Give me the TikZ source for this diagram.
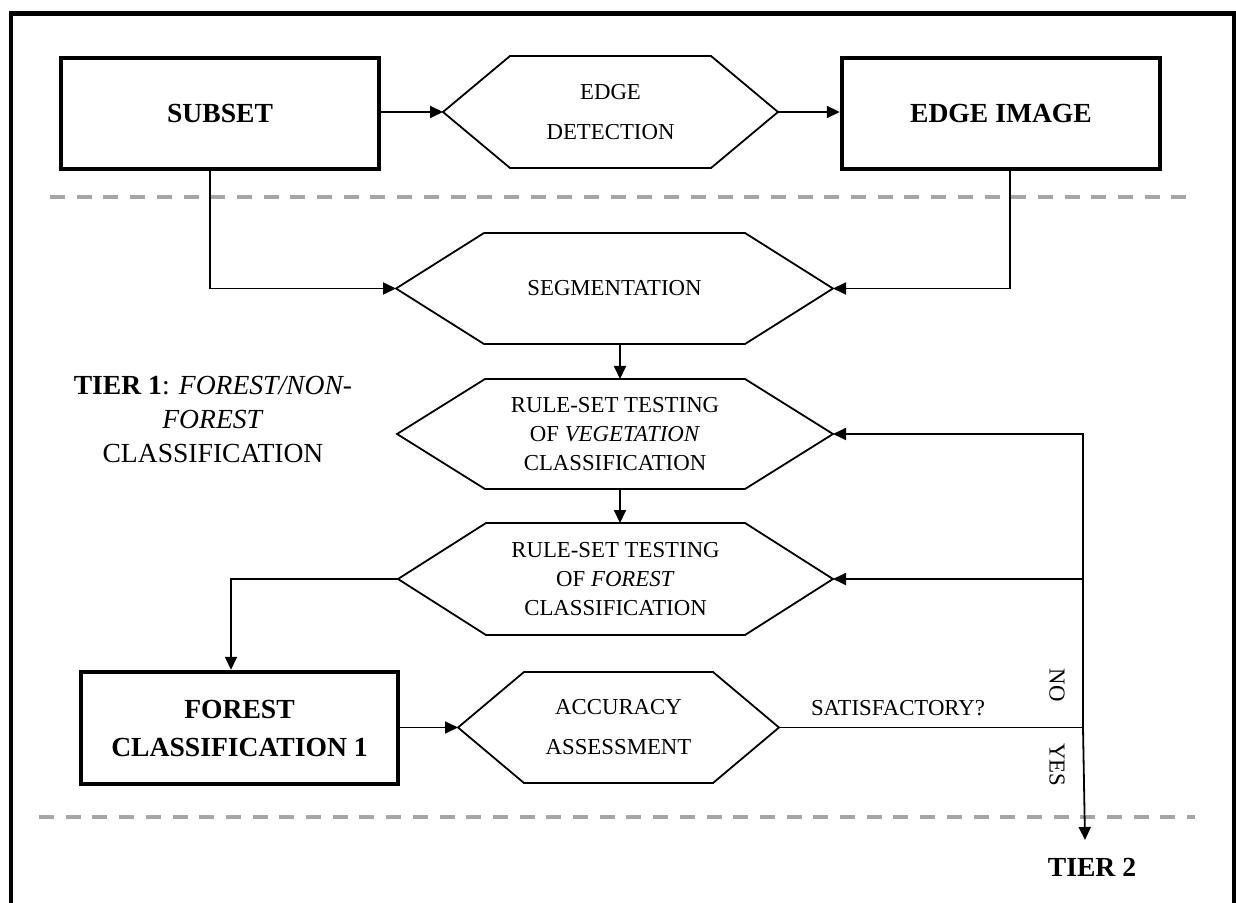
\documentclass[tikz,border=0pt]{standalone}
\usepackage{fontspec}
\setmainfont{Liberation Serif}
\usetikzlibrary{arrows.meta}
\definecolor{divider}{HTML}{A6A6A6}
\tikzset{
  hexline/.style={draw=black, line width=0.9pt, line join=miter},
  hextext/.style={inner sep=0pt, align=center, font=\fontsize{11.4pt}{14.5pt}\selectfont},
  twoline/.style={font=\fontsize{11.4pt}{20pt}\selectfont},
  boldbox/.style={draw, line width=2.2pt, minimum width=159pt, minimum height=55.5pt,
    align=center, inner sep=0pt, font=\bfseries\fontsize{13.8pt}{19pt}\selectfont},
  conn/.style={line width=0.9pt},
  arr/.style={conn, -{Triangle[length=6.5pt,width=6pt]}},
  divline/.style={draw=divider, line width=2pt, dash pattern=on 7.5pt off 5.85pt},
  lbl/.style={inner sep=0pt, font=\fontsize{11.4pt}{14pt}\selectfont},
}
% hexagonal process step: name, cx, cy, half width, corner inset, half height, options, text
\newcommand\hexnode[8]{%
  \draw[hexline] (#2-#4,#3) -- (#2-#4+#5,#3-#6) -- (#2+#4-#5,#3-#6) -- (#2+#4,#3)
    -- (#2+#4-#5,#3+#6) -- (#2-#4+#5,#3+#6) -- cycle;
  \node[hextext,#7] (#1) at (#2,#3) {#8};
  \coordinate (#1-w) at (#2-#4,#3);
  \coordinate (#1-e) at (#2+#4,#3);
  \coordinate (#1-n) at (#2,#3-#6);
  \coordinate (#1-s) at (#2,#3+#6);
}
\begin{document}
\begin{tikzpicture}[x=0.5pt,y=-0.5pt]
\useasboundingbox (0,0) rectangle (1236,903);

% outer frame (open at the bottom)
\begin{scope}
  \clip (0,0) rectangle (1236,903);
  \draw[line width=2.3pt] (10.8,950) -- (10.8,13.8) -- (1233.8,13.8) -- (1233.8,950);
\end{scope}

% tier dividers
\draw[divline] (50,197) -- (1192,197);
\draw[divline] (39,817) -- (1195,817);

% data boxes
\node[boldbox] (subset) at (220,113.5) {SUBSET};
\node[boldbox] (edgeimg) at (1001,113.5) {EDGE IMAGE};
\node[boldbox, minimum width=158.5pt, minimum height=56pt] (fc) at (239.5,728) {FOREST\\CLASSIFICATION 1};

% processing steps
\hexnode{edet}{610.5}{112}{167.5}{67}{56}{twoline}{EDGE\\DETECTION}
\hexnode{seg}{614.5}{288.5}{218.5}{88}{55.5}{}{SEGMENTATION}
\hexnode{veg}{615}{434}{218}{88}{55}{}{RULE-SET TESTING\\OF \textit{VEGETATION}\\CLASSIFICATION}
\hexnode{fort}{615.5}{579}{217.5}{88}{56}{}{RULE-SET TESTING\\OF \textit{FOREST}\\CLASSIFICATION}
\hexnode{acc}{618.5}{727.5}{160.5}{66}{55.5}{twoline}{ACCURACY\\ASSESSMENT}

% main column of the vertical flow
\coordinate (col) at (620,0);

% flow
\draw[arr] (subset.east |- edet-w) -- (edet-w);
\draw[arr] (edet-e) -- (edgeimg.west |- edet-e);
\draw[arr] ([xshift=-5pt]subset.south) |- (seg-w);
\draw[arr] ([xshift=4.5pt]edgeimg.south) |- (seg-e);
\draw[arr] (col |- seg-s) -- (col |- veg-n);
\draw[arr] (col |- veg-s) -- (col |- fort-n);
\draw[arr] (fort-w) -| ([xshift=-4.25pt]fc.north);
\draw[arr] (fc.east |- acc-w) -- (acc-w);

% decision loop
\coordinate (bend) at (1083,727.5);
\coordinate (t2in) at (1085,840);
\draw[conn] (acc-e) -- (bend);
\draw[arr] (bend) -- (bend |- veg-e) -- (veg-e);
\draw[arr] (bend |- fort-e) -- (fort-e);
\draw[arr] (bend) -- (t2in);

% labels
\node[lbl] (sat) at (898,708) {SATISFACTORY?};
\node[lbl, rotate=-90] (no) at (1057,685) {NO};
\node[lbl, rotate=-90] (yes) at (1057,765) {YES};
\node[inner sep=0pt, font=\bfseries\fontsize{13.8pt}{16pt}\selectfont] (tier2) at (1092,867) {TIER 2};
\node[align=center, inner sep=0pt, font=\fontsize{13.8pt}{17pt}\selectfont] (tier1) at (213,419)
  {\textbf{TIER 1}: \textit{FOREST/NON-}\\\textit{FOREST}\\CLASSIFICATION};
\end{tikzpicture}
\end{document}
